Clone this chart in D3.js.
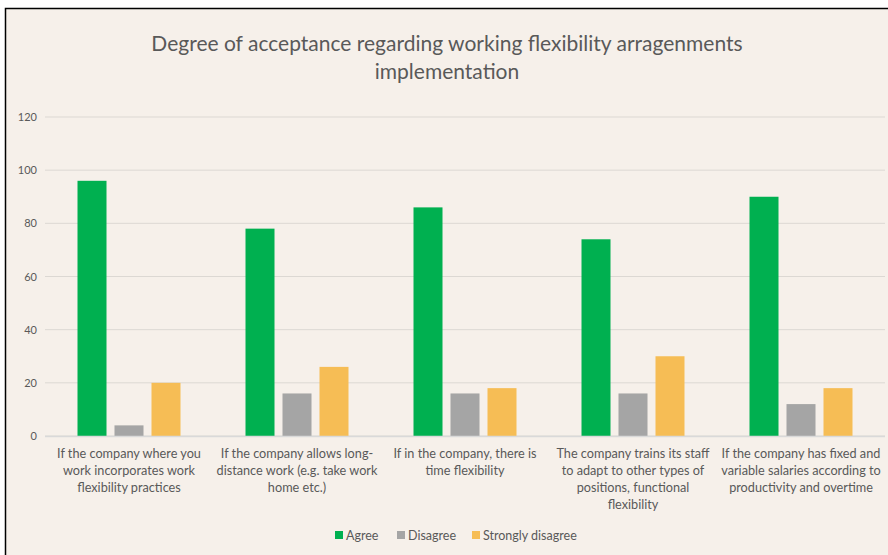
<!DOCTYPE html>
<meta charset="utf-8">
<head>
    <title>Working flexibility</title>
    <script src="https://cdn.jsdelivr.net/npm/d3@7"></script>
    <style>
        body { margin: 0; background: #ffffff; }
        text { font-family: Lato, "Open Sans", sans-serif; fill: #595959; }
    </style>
</head>
<body>
    <div id="chart"></div>
    <script>
        // data
        var categories = [
            ["If the company where you", "work incorporates work", "flexibility practices"],
            ["If the company allows long-", "distance work (e.g.  take work", "home etc.)"],
            ["If in the company, there is", "time flexibility"],
            ["The company trains its staff", "to adapt to other types of", "positions, functional", "flexibility"],
            ["If the company has fixed  and", "variable salaries according to", "productivity and overtime"]
        ];
        var seriesNames = ["Agree", "Disagree", "Strongly disagree"];
        var agree = [96, 78, 86, 74, 90];
        var disagree = [4, 16, 16, 16, 12];
        var stronglyDisagree = [20, 26, 18, 30, 18];
        var yTicks = [0, 20, 40, 60, 80, 100, 120];
        var colors = ["#00b050", "#a5a5a5", "#f6bd55"];

        var width = 888, height = 555;
        var margin = { top: 117, right: 3, bottom: 119, left: 45 };

        var svg = d3.select("#chart").append("svg")
            .attr("width", width)
            .attr("height", height);

        // chart frame
        svg.append("rect")
            .attr("x", 5.5).attr("y", 8.5)
            .attr("width", width).attr("height", height)
            .attr("fill", "#f6f0ea")
            .attr("stroke", "#000").attr("stroke-width", 1.5);

        svg.append("text")
            .attr("x", 447).attr("y", 51)
            .attr("text-anchor", "middle")
            .style("font-size", "21px")
            .text("Degree of acceptance regarding working flexibility arragenments");
        svg.append("text")
            .attr("x", 447).attr("y", 79)
            .attr("text-anchor", "middle")
            .style("font-size", "21px")
            .text("implementation");

        var x = d3.scaleBand()
            .domain(d3.range(categories.length))
            .range([margin.left, width - margin.right]);

        // three bars of ~29px with ~8px gaps, centred in each band
        var inner = d3.scaleBand()
            .domain(seriesNames)
            .range([32.5, x.bandwidth() - 32.5])
            .paddingInner(0.216);

        var y = d3.scaleLinear()
            .domain([0, 120])
            .range([height - margin.bottom, margin.top]);

        // grid lines
        svg.append("g")
            .selectAll("line")
            .data(yTicks)
            .enter().append("line")
            .attr("x1", margin.left).attr("x2", width - margin.right)
            .attr("y1", function(d) { return y(d); })
            .attr("y2", function(d) { return y(d); })
            .attr("stroke", "#dcd8d3")
            .attr("stroke-width", 1);

        var yAxis = svg.append("g")
            .attr("transform", "translate(" + (margin.left - 8) + ",0)")
            .call(d3.axisLeft(y).tickValues(yTicks).tickSize(0).tickPadding(0));
        yAxis.select(".domain").remove();
        yAxis.selectAll("text").style("font-size", "11px").attr("fill", "#595959");

        var series = [agree, disagree, stronglyDisagree];
        var rows = [];
        series.forEach(function(vals, s) {
            vals.forEach(function(v, i) {
                rows.push({ cat: i, name: seriesNames[s], value: v, color: colors[s] });
            });
        });

        svg.append("g")
            .selectAll("rect")
            .data(rows)
            .enter().append("rect")
            .attr("x", function(d) { return x(d.cat) + inner(d.name); })
            .attr("y", function(d) { return y(d.value); })
            .attr("width", inner.bandwidth())
            .attr("height", function(d) { return y(0) - y(d.value); })
            .attr("fill", function(d) { return d.color; });

        // axis baseline
        svg.append("line")
            .attr("x1", margin.left).attr("x2", width - margin.right)
            .attr("y1", y(0) + 0.5).attr("y2", y(0) + 0.5)
            .attr("stroke", "#d9d9d9").attr("stroke-width", 1.5);

        // category labels
        var labels = svg.append("g")
            .selectAll("text")
            .data(categories)
            .enter().append("text")
            .attr("text-anchor", "middle")
            .style("font-size", "12.7px");
        labels.selectAll("tspan")
            .data(function(d, i) { return d.map(function(t) { return { t: t, i: i }; }); })
            .enter().append("tspan")
            .attr("x", function(d) { return x(d.i) + x.bandwidth() / 2; })
            .attr("y", function(d, j) { return 458 + j * 17; })
            .text(function(d) { return d.t; });

        // legend
        var legendX = [335, 397, 472];
        var legend = svg.append("g")
            .selectAll("g")
            .data(seriesNames)
            .enter().append("g")
            .attr("transform", function(d, i) { return "translate(" + legendX[i] + ",535)"; });
        legend.append("rect")
            .attr("x", 0).attr("y", -4)
            .attr("width", 8).attr("height", 8)
            .attr("fill", function(d, i) { return colors[i]; });
        legend.append("text")
            .attr("x", 11).attr("y", 4.5)
            .style("font-size", "12.5px")
            .text(function(d) { return d; });
    </script>
</body>
